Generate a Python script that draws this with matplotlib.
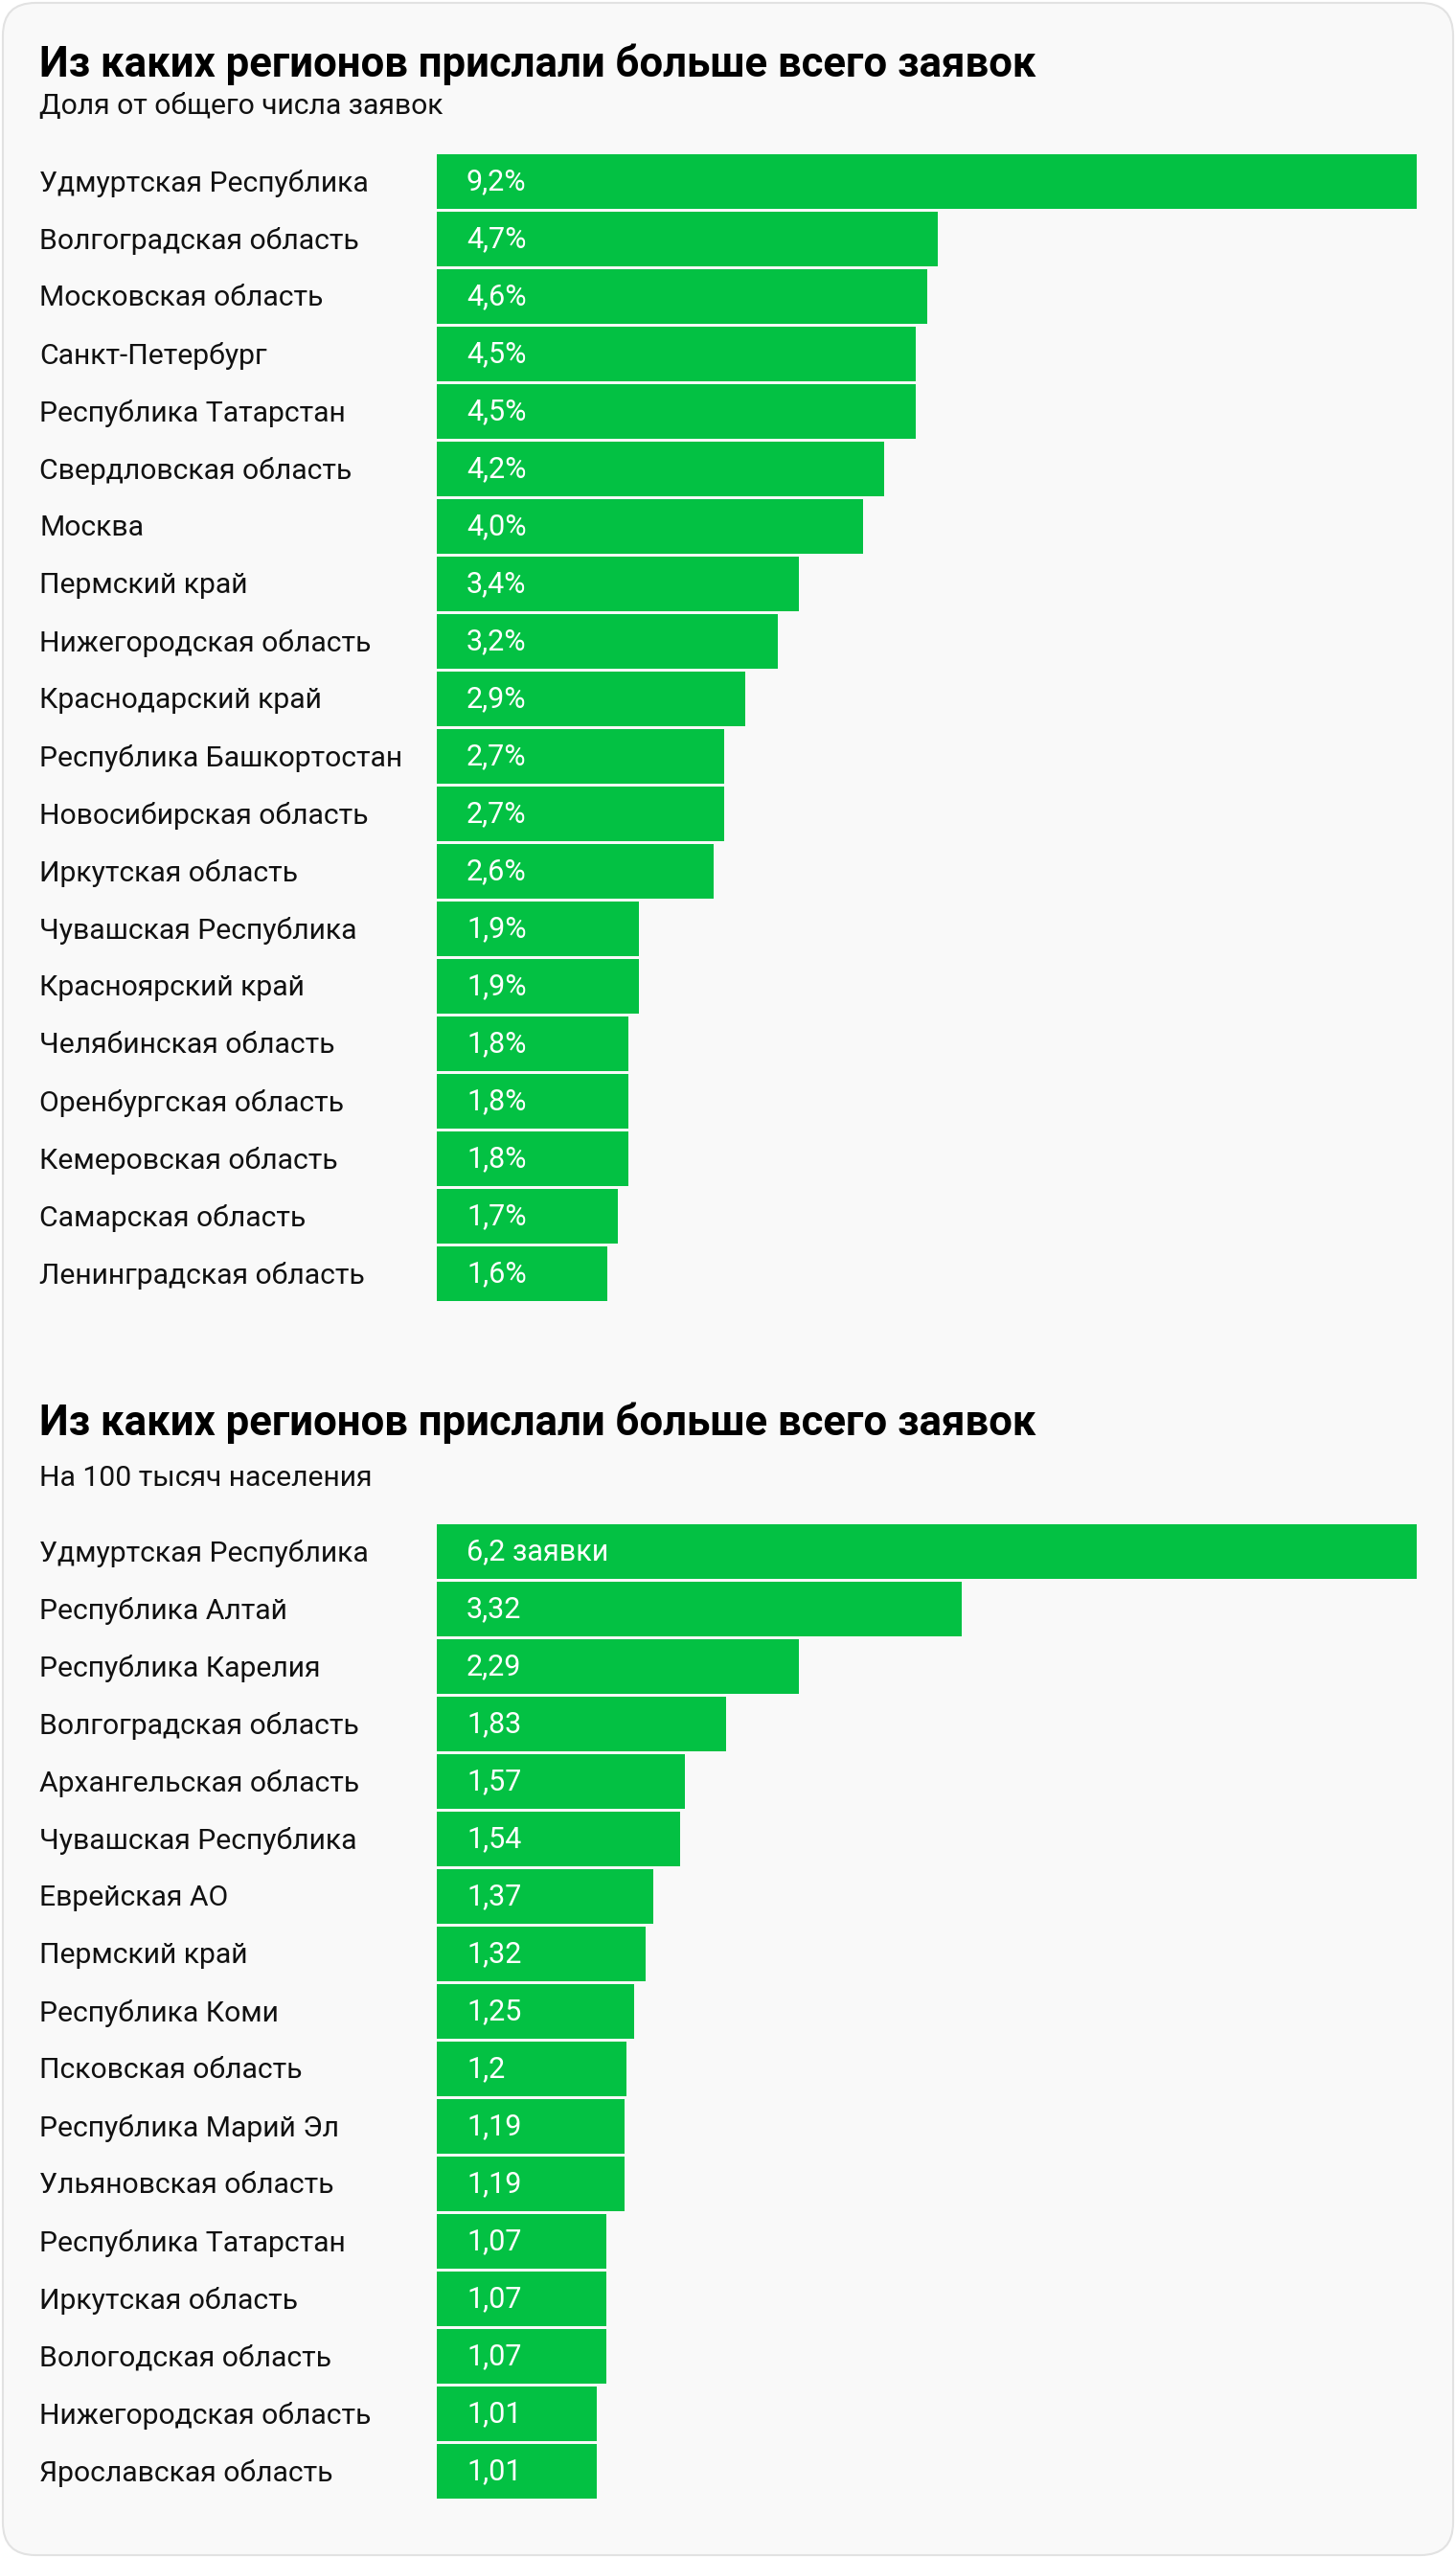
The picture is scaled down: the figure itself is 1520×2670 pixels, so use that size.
import matplotlib.pyplot as plt
import matplotlib.transforms as mtransforms
from matplotlib.patches import FancyBboxPatch

# data
title = 'Из каких регионов прислали больше всего заявок'
subtitle1 = 'Доля от общего числа заявок'
subtitle2 = 'На 100 тысяч населения'

regions1 = ['Удмуртская Республика', 'Волгоградская область', 'Московская область',
            'Санкт-Петербург', 'Республика Татарстан', 'Свердловская область', 'Москва',
            'Пермский край', 'Нижегородская область', 'Краснодарский край',
            'Республика Башкортостан', 'Новосибирская область', 'Иркутская область',
            'Чувашская Республика', 'Красноярский край', 'Челябинская область',
            'Оренбургская область', 'Кемеровская область', 'Самарская область',
            'Ленинградская область']
share1 = [9.2, 4.7, 4.6, 4.5, 4.5, 4.2, 4.0, 3.4, 3.2, 2.9, 2.7, 2.7, 2.6,
          1.9, 1.9, 1.8, 1.8, 1.8, 1.7, 1.6]

regions2 = ['Удмуртская Республика', 'Республика Алтай', 'Республика Карелия',
            'Волгоградская область', 'Архангельская область', 'Чувашская Республика',
            'Еврейская АО', 'Пермский край', 'Республика Коми', 'Псковская область',
            'Республика Марий Эл', 'Ульяновская область', 'Республика Татарстан',
            'Иркутская область', 'Вологодская область', 'Нижегородская область',
            'Ярославская область']
per100k = [6.2, 3.32, 2.29, 1.83, 1.57, 1.54, 1.37, 1.32, 1.25, 1.2, 1.19, 1.19,
           1.07, 1.07, 1.07, 1.01, 1.01]

GREEN = '#03c143'
BG = '#f9f9f9'
W, H = 1520, 2670
FONT = 'Roboto'

fig = plt.figure(figsize=(W / 100, H / 100), dpi=100)
fig.patch.set_facecolor('white')

panel = FancyBboxPatch((3, 3), W - 6, H - 6, boxstyle='round,pad=0,rounding_size=34',
                       transform=mtransforms.IdentityTransform(),
                       facecolor=BG, edgecolor='#e2e2e2', linewidth=1.5, zorder=-5)
fig.patches.append(panel)


def fy(px):
    # pixel from top -> figure fraction
    return 1 - px / H


def draw_chart(top_px, names, vals, texts):
    n = len(names)
    x0, x1 = 456, 1479
    ax = fig.add_axes([x0 / W, fy(top_px + 60 * n), (x1 - x0) / W, 60 * n / H])
    ax.set_facecolor('none')
    y = list(range(n))
    ax.barh(y, vals, height=0.95, color=GREEN, edgecolor='none')
    ax.set_xlim(0, max(vals))
    ax.set_ylim(n - 0.5, -0.5)
    ax.axis('off')
    tr = mtransforms.blended_transform_factory(fig.transFigure, ax.transData)
    for i in y:
        ax.annotate(names[i], (41 / W, i), xycoords=tr, xytext=(0, -2),
                    textcoords='offset pixels', ha='left', va='center',
                    fontsize=21.7, family=FONT, color='#111111')
        ax.annotate(texts[i], (0, i), xytext=(31, -1), textcoords='offset pixels',
                    ha='left', va='center', fontsize=22, family=FONT, color='white')
    return ax


labels1 = [f'{v:.1f}%'.replace('.', ',') for v in share1]
labels2 = [f'{v:g}'.replace('.', ',') for v in per100k]
labels2[0] += ' заявки'

fig.text(41 / W, fy(80), title, fontsize=31.5, fontweight='bold', family=FONT,
         color='black', va='baseline')
fig.text(41 / W, fy(119), subtitle1, fontsize=21.7, family=FONT, color='#111111',
         va='baseline')
draw_chart(159, regions1, share1, labels1)

fig.text(41 / W, fy(1498), title, fontsize=31.5, fontweight='bold', family=FONT,
         color='black', va='baseline')
fig.text(41 / W, fy(1551), subtitle2, fontsize=21.7, family=FONT, color='#111111',
         va='baseline')
draw_chart(1589, regions2, per100k, labels2)

fig.savefig('out.png', dpi=100, facecolor='white')
